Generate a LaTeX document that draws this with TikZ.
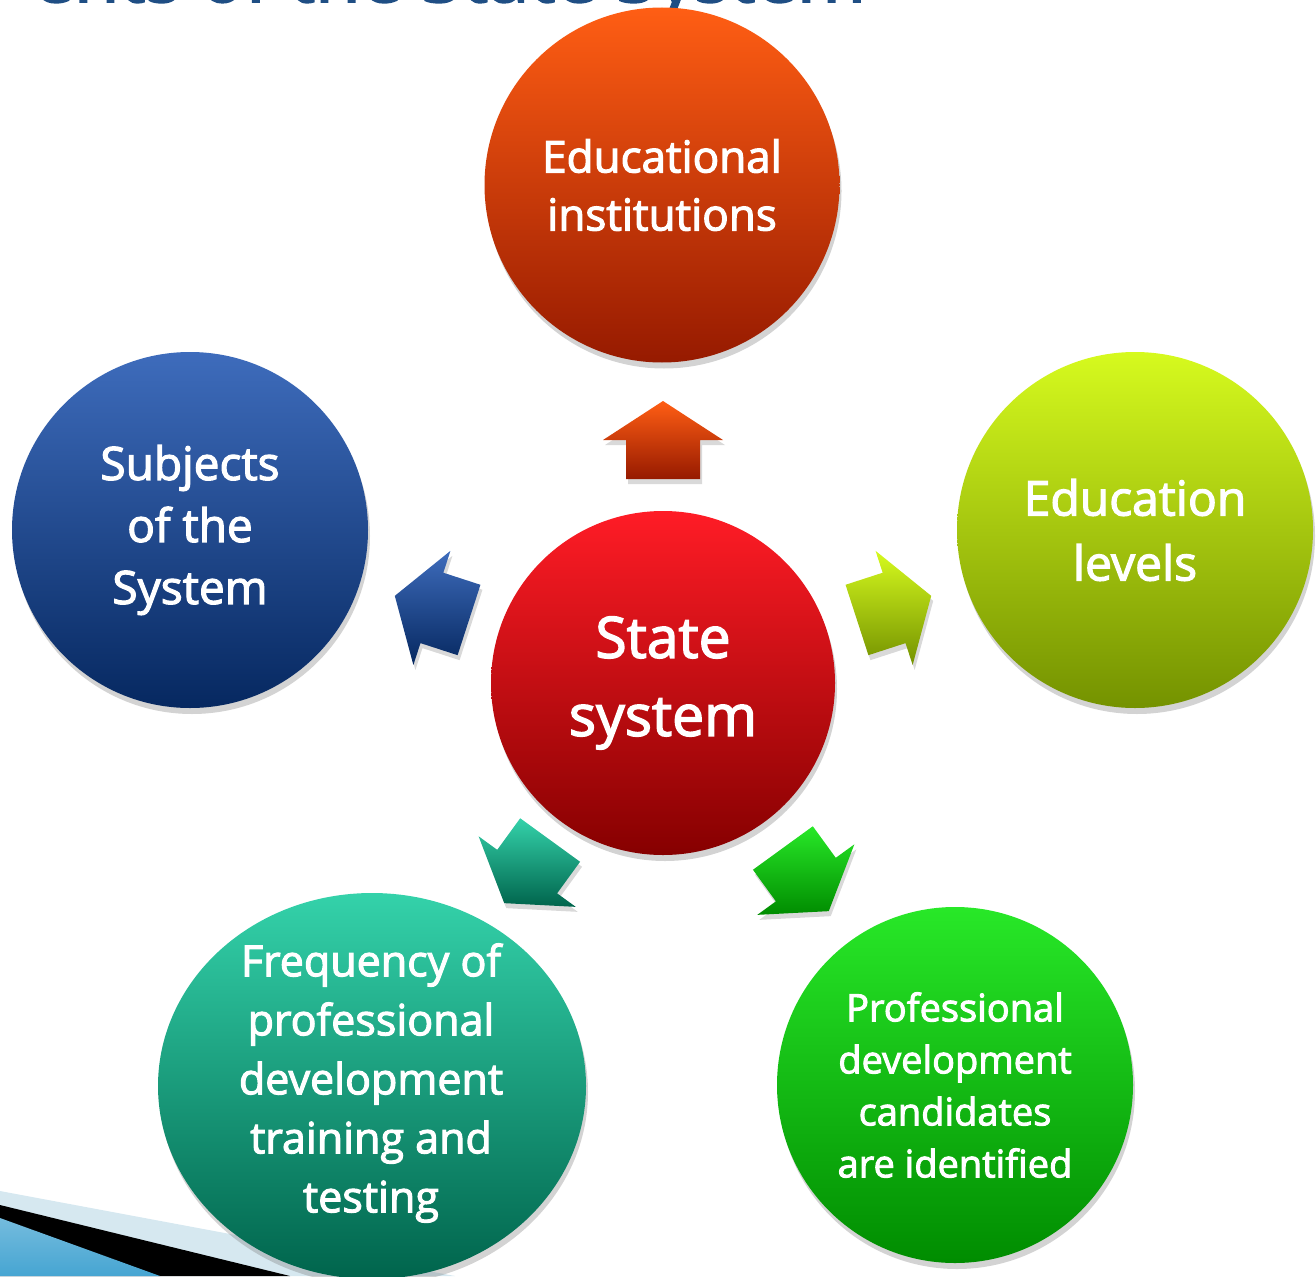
\documentclass[tikz,border=0pt]{standalone}
\usepackage{fontspec}
\IfFontExistsTF{Open Sans SemiBold}
	{\setmainfont{Open Sans SemiBold}}
	{\setmainfont{Open Sans}[FakeBold=2.5]}
\usetikzlibrary{calc}
\usetikzlibrary{positioning}
\usetikzlibrary{shapes.geometric}
\usetikzlibrary{shadows}

\definecolor{titleblue}{RGB}{31,78,132}
\definecolor{insttop}{RGB}{255,94,20}
\definecolor{instbot}{RGB}{150,26,0}
\definecolor{statetop}{RGB}{255,28,38}
\definecolor{statebot}{RGB}{134,0,0}
\definecolor{levtop}{RGB}{214,250,30}
\definecolor{levbot}{RGB}{116,146,0}
\definecolor{subjtop}{RGB}{62,108,188}
\definecolor{subjbot}{RGB}{6,40,96}
\definecolor{freqtop}{RGB}{52,210,170}
\definecolor{freqbot}{RGB}{0,100,76}
\definecolor{candtop}{RGB}{40,232,40}
\definecolor{candbot}{RGB}{0,140,0}
\definecolor{swooshlight}{RGB}{214,232,240}
\definecolor{swooshblue}{RGB}{70,165,210}

\begin{document}
\begin{tikzpicture}
		[x=1pt, y=-1pt,
		bubble/.style={circle,inner sep=0pt,text=white,align=center,
			drop shadow={opacity=0.35,shadow xshift=2pt,shadow yshift=-6pt}},
		pointer/.style={drop shadow={opacity=0.3,shadow xshift=2pt,shadow yshift=-5pt}}
		]
		
		% Page and clipping
		\useasboundingbox (0,0) rectangle (1316,1276);
		\clip (0,0) rectangle (1316,1276);
		
		% Slide decoration, bottom left
		\fill[swooshlight] (0,1191) -- (455,1276) -- (0,1276) -- cycle;
		\fill[black] (0,1205) -- (290,1276) -- (0,1276) -- cycle;
		\shade[top color=swooshblue!75!white, bottom color=swooshblue] (0,1218) -- (160,1276) -- (0,1276) -- cycle;
		
		% Title, cut by the top edge
		\node[anchor=base east,inner sep=0pt,text=titleblue,font=\fontsize{74}{88}\selectfont] (title) at (866,2) {ents of the State System};
		
		% The hub
		\node[bubble,minimum size=344pt,top color=statetop,bottom color=statebot,
			font=\fontsize{57}{78}\selectfont] (state) at (663,683) {State\\system};
		
		% The five bubbles
		\node[bubble,minimum size=355pt,top color=insttop,bottom color=instbot,
			font=\fontsize{44}{58}\selectfont] (inst) at (662,185) {Educational\\institutions};
		\node[bubble,minimum size=356pt,top color=levtop,bottom color=levbot,
			font=\fontsize{48}{65}\selectfont] (levels) at (1135,530) {Education\\levels};
		\node[bubble,minimum size=356pt,top color=subjtop,bottom color=subjbot,
			font=\fontsize{46}{62}\selectfont] (subj) at (190,530) {Subjects\\of the\\System};
		\node[bubble,ellipse,minimum width=428pt,minimum height=386pt,
			top color=freqtop,bottom color=freqbot] (freq) at (372,1086) {};
		\node[text=white,align=center,font=\fontsize{43}{59}\selectfont] (freqtext) at (371,1083)
			{Frequency of\\professional\\development\\training and\\testing};
		\node[bubble,minimum size=356pt,top color=candtop,bottom color=candbot,
			font=\fontsize{38}{52}\selectfont] (cand) at (955,1085) {Professional\\development\\candidates\\are identified};
		
		% Arrows out of the hub
		\foreach \ang/\tc/\bc/\dx/\dy in {-90/insttop/instbot/0/0, -18/levtop/levbot/0/0,
			54/candtop/candbot/0/0, 126/freqtop/freqbot/7/-8, 198/subjtop/subjbot/0/0}
		{
			\coordinate (hub) at ($(state)+(\dx,\dy)$);
			\shade[pointer,top color=\tc,bottom color=\bc]
				($(hub)+(\ang:282)$) -- ($(hub)+(\ang+13.87:250.3)$) -- ($(hub)+(\ang+8.66:245.8)$)
				-- ($(hub)+(\ang+10.28:207.3)$) -- ($(hub)+(\ang-10.28:207.3)$)
				-- ($(hub)+(\ang-8.66:245.8)$) -- ($(hub)+(\ang-13.87:250.3)$) -- cycle;
		}
		\end{tikzpicture}
\end{document}
